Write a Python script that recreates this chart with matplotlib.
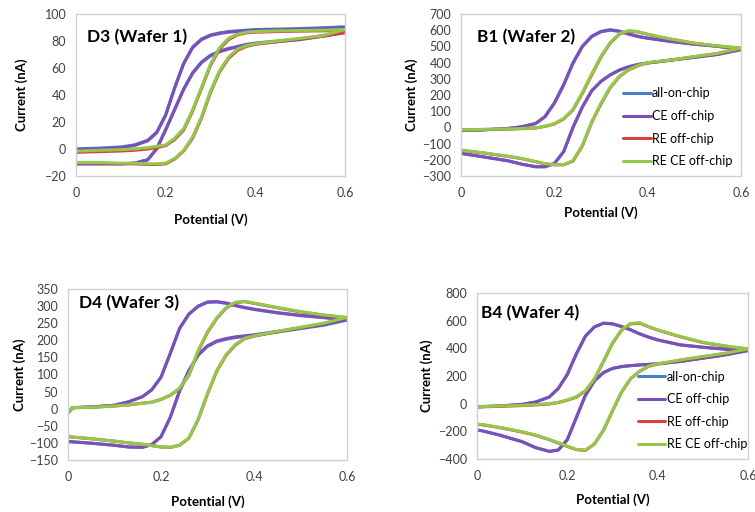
import matplotlib
matplotlib.use('Agg')
import matplotlib.pyplot as plt

plt.rcParams['font.family'] = ['Lato', 'DejaVu Sans']

# potential grid (V), same for every branch
E = [0, 0.01, 0.05, 0.1, 0.13, 0.16, 0.18, 0.2, 0.22, 0.24, 0.26, 0.28, 0.3,
     0.32, 0.34, 0.36, 0.38, 0.4, 0.45, 0.5, 0.55, 0.6]

series = ['all-on-chip', 'CE off-chip', 'RE off-chip', 'RE CE off-chip']
colors = ['#4a7fc8', '#7b50b8', '#d94040', '#92c94a']

# D3 (Wafer 1) - current in nA, forward (upper) and reverse (lower) branch
d3_all_fwd = [0, 0.2, 0.6, 1.5, 3, 6.5, 12.5, 25.5, 45.5, 63.5, 75.5, 81.5, 84.5, 86, 87, 87.5, 88, 88.5, 88.8, 89.2, 89.8, 90.5]
d3_all_rev = [-11, -11, -11, -11, -10.5, -8, 0.5, 14.5, 29.5, 44.5, 56.5, 64.5, 69.5, 72.5, 74.5, 76, 77.5, 78.5, 80, 81.5, 84, 86.5]
d3_ce_fwd = [-0.5, -0.4, 0, 1, 2.5, 6, 12, 25, 45, 63, 75, 81, 84, 85.5, 86.5, 87, 87.5, 88, 88.3, 88.7, 89.3, 90]
d3_ce_rev = [-11, -11, -11, -11, -10.5, -8, 0, 14, 29, 44, 56, 64, 69, 72, 74, 75.5, 77, 78, 79.5, 81, 83.5, 86]
d3_re_fwd = [-2.5, -2.4, -2, -1.5, -1, 0, 1, 2.5, 7, 14, 28, 45, 62, 74, 81, 84.5, 86, 86.5, 87, 87.3, 87.5, 88]
d3_re_rev = [-10.5, -10.5, -10.5, -11, -11, -11.5, -11.5, -11, -7.5, -1.5, 8, 23, 42, 57, 67, 73, 76, 77.5, 79.5, 81.5, 83.5, 86.5]
d3_rece_fwd = [-1.5, -1.5, -1, -0.5, 0, 1, 2, 3, 8, 15, 29, 46, 63, 75, 82, 85, 86.5, 87, 87.5, 87.8, 88, 88.5]
d3_rece_rev = [-10, -10, -10, -10.5, -10.5, -11, -11, -10.5, -7, -1, 9, 24, 43, 58, 68, 74, 76.5, 78, 80, 82, 84, 88.5]

# B1 (Wafer 2)
b1_all_fwd = [-20, -19, -15, -7, 4, 25, 68, 152, 265, 400, 502, 563, 593, 603, 594, 577, 562, 551, 531, 514, 501, 481]
b1_all_rev = [-160, -165, -183, -206, -227, -243, -243, -223, -149, 1, 126, 226, 285, 325, 355, 375, 389, 398, 416, 433, 451, 481]
b1_ce_fwd = [-20, -19, -15, -7, 3, 23, 65, 148, 261, 395, 498, 560, 590, 600, 592, 575, 560, 550, 530, 513, 500, 480]
b1_ce_rev = [-160, -165, -183, -206, -227, -243, -243, -224, -150, 0, 125, 225, 284, 324, 354, 374, 388, 397, 415, 432, 450, 480]
b1_re_fwd = [-16, -16, -13, -11, -8, -4, 6, 21, 52, 108, 210, 324, 435, 521, 577, 595, 589, 574, 544, 519, 502, 489]
b1_re_rev = [-141, -145, -159, -179, -193, -212, -225, -231, -231, -208, -115, 30, 145, 246, 315, 356, 381, 399, 415, 436, 456, 489]
b1_rece_fwd = [-15, -15, -12, -10, -7, -3, 7, 23, 55, 112, 215, 330, 440, 525, 580, 597, 590, 575, 545, 520, 503, 490]
b1_rece_rev = [-140, -144, -158, -178, -192, -211, -224, -230, -230, -205, -110, 35, 150, 250, 318, 358, 383, 400, 416, 437, 457, 490]

# D4 (Wafer 3)
d4_all_fwd = [-12, 3, 5, 10, 20, 35, 55, 92, 162, 235, 276, 299, 311, 312, 308, 301, 295, 290, 280, 272, 266, 259]
d4_all_rev = [-96, -97, -101, -107, -112, -113, -105, -82, -25, 52, 111, 156, 182, 196, 203, 208, 211, 214, 224, 234, 244, 259]
d4_ce_fwd = [-12, 3, 5, 10, 20, 35, 55, 92, 162, 235, 277, 300, 312, 313, 309, 302, 296, 291, 281, 273, 267, 260]
d4_ce_rev = [-96, -97, -101, -107, -112, -113, -105, -82, -25, 52, 112, 158, 184, 198, 205, 210, 213, 216, 226, 236, 246, 260]
d4_re_fwd = [-12, 3, 4, 8, 11, 16, 19, 27, 39, 59, 98, 168, 223, 264, 294, 310, 313, 308, 295, 283, 273, 266]
d4_re_rev = [-82, -83, -88, -95, -100, -104, -108, -112, -113, -107, -86, -32, 43, 110, 156, 186, 205, 212, 225, 237, 249, 266]
d4_rece_fwd = [-12, 3, 4, 8, 11, 16, 19, 28, 40, 60, 100, 170, 225, 266, 296, 311, 314, 309, 296, 284, 274, 267]
d4_rece_rev = [-82, -83, -88, -95, -100, -104, -108, -112, -113, -107, -85, -30, 45, 112, 158, 188, 206, 213, 226, 238, 250, 267]

# B4 (Wafer 4)
b4_all_fwd = [-22, -21, -17, -5, 12, 48, 110, 212, 360, 488, 555, 582, 577, 558, 534, 505, 481, 461, 425, 408, 394, 384]
b4_all_rev = [-191, -195, -227, -275, -318, -345, -335, -260, -100, 60, 165, 225, 255, 268, 275, 280, 284, 288, 305, 329, 353, 384]
b4_ce_fwd = [-22, -21, -17, -5, 12, 48, 110, 212, 360, 488, 555, 582, 577, 558, 534, 505, 481, 461, 425, 408, 394, 384]
b4_ce_rev = [-191, -195, -227, -275, -318, -345, -335, -260, -100, 60, 165, 225, 255, 268, 275, 280, 284, 288, 305, 329, 353, 384]
b4_re_fwd = [-24, -23, -19, -14, -9, -2, 8, 25, 47, 92, 176, 304, 436, 531, 577, 582, 556, 532, 484, 442, 416, 394]
b4_re_rev = [-149, -152, -173, -205, -229, -260, -285, -309, -332, -338, -292, -193, -53, 82, 180, 234, 270, 286, 314, 339, 363, 394]
b4_rece_fwd = [-22, -21, -17, -12, -7, 0, 10, 27, 50, 95, 180, 308, 440, 534, 580, 585, 558, 534, 486, 444, 418, 396]
b4_rece_rev = [-147, -150, -171, -203, -227, -258, -283, -307, -330, -336, -290, -190, -50, 85, 182, 236, 272, 288, 316, 341, 365, 396]

panels = [
    # title, axes rect, ylim, yticks, data, legend anchor, title pos, ylabel x, xlabel y
    ('D3 (Wafer 1)', [0.1007, 0.6563, 0.3563, 0.3164], (-20, 100), range(-20, 101, 20),
     [(d3_all_fwd, d3_all_rev), (d3_ce_fwd, d3_ce_rev), (d3_re_fwd, d3_re_rev), (d3_rece_fwd, d3_rece_rev)],
     None, (0.041, 0.858), -0.178, -0.228),
    ('B1 (Wafer 2)', [0.6106, 0.6563, 0.3709, 0.3164], (-300, 700), range(-300, 701, 100),
     [(b1_all_fwd, b1_all_rev), (b1_ce_fwd, b1_ce_rev), (b1_re_fwd, b1_re_rev), (b1_rece_fwd, b1_rece_rev)],
     (0.579, 0.30), (0.057, 0.858), -0.154, -0.19),
    ('D4 (Wafer 3)', [0.0901, 0.1016, 0.3695, 0.3340], (-150, 350), range(-150, 351, 50),
     [(d4_all_fwd, d4_all_rev), (d4_ce_fwd, d4_ce_rev), (d4_re_fwd, d4_re_rev), (d4_rece_fwd, d4_rece_rev)],
     None, (0.039, 0.918), -0.151, -0.205),
    ('B4 (Wafer 4)', [0.6318, 0.1035, 0.3589, 0.3242], (-400, 800), range(-400, 801, 200),
     [(b4_all_fwd, b4_all_rev), (b4_ce_fwd, b4_ce_rev), (b4_re_fwd, b4_re_rev), (b4_rece_fwd, b4_rece_rev)],
     (0.594, 0.292), (0.015, 0.88), -0.162, -0.205),
]

fig = plt.figure(figsize=(7.55, 5.12), dpi=100)

for title, rect, ylim, yticks, data, leg, tpos, ylx, xly in panels:
    ax = fig.add_axes(rect)
    for (fwd, rev), name, col in zip(data, series, colors):
        ax.plot(E + E[::-1], fwd + rev[::-1], color=col, lw=2.2, label=name,
                solid_joinstyle='round', solid_capstyle='round')
    ax.set_xlim(0, 0.6)
    ax.set_ylim(*ylim)
    ax.set_xticks([0, 0.2, 0.4, 0.6])
    ax.set_xticklabels(['0', '0.2', '0.4', '0.6'])
    ax.set_yticks(list(yticks))
    ax.tick_params(length=0, labelsize=9, colors='#404040')
    ax.tick_params(axis='x', pad=8)
    ax.tick_params(axis='y', pad=7)
    for s in ax.spines.values():
        s.set_color('#d0d0d0')
        s.set_linewidth(1)
    ax.set_xlabel('Potential (V)', fontsize=9.5, fontweight='bold')
    ax.set_ylabel('Current (nA)', fontsize=9.5, fontweight='bold')
    ax.xaxis.set_label_coords(0.5, xly)
    ax.yaxis.set_label_coords(ylx, 0.5)
    ax.text(tpos[0], tpos[1], title, transform=ax.transAxes, fontsize=12.4,
            fontweight='bold', va='center', ha='left')
    if leg:
        ax.legend(loc='center left', bbox_to_anchor=leg, frameon=False, fontsize=9,
                  handlelength=2.2, handletextpad=0.1, labelspacing=0.85,
                  borderpad=0, borderaxespad=0)

plt.savefig('out.png', dpi=100)
